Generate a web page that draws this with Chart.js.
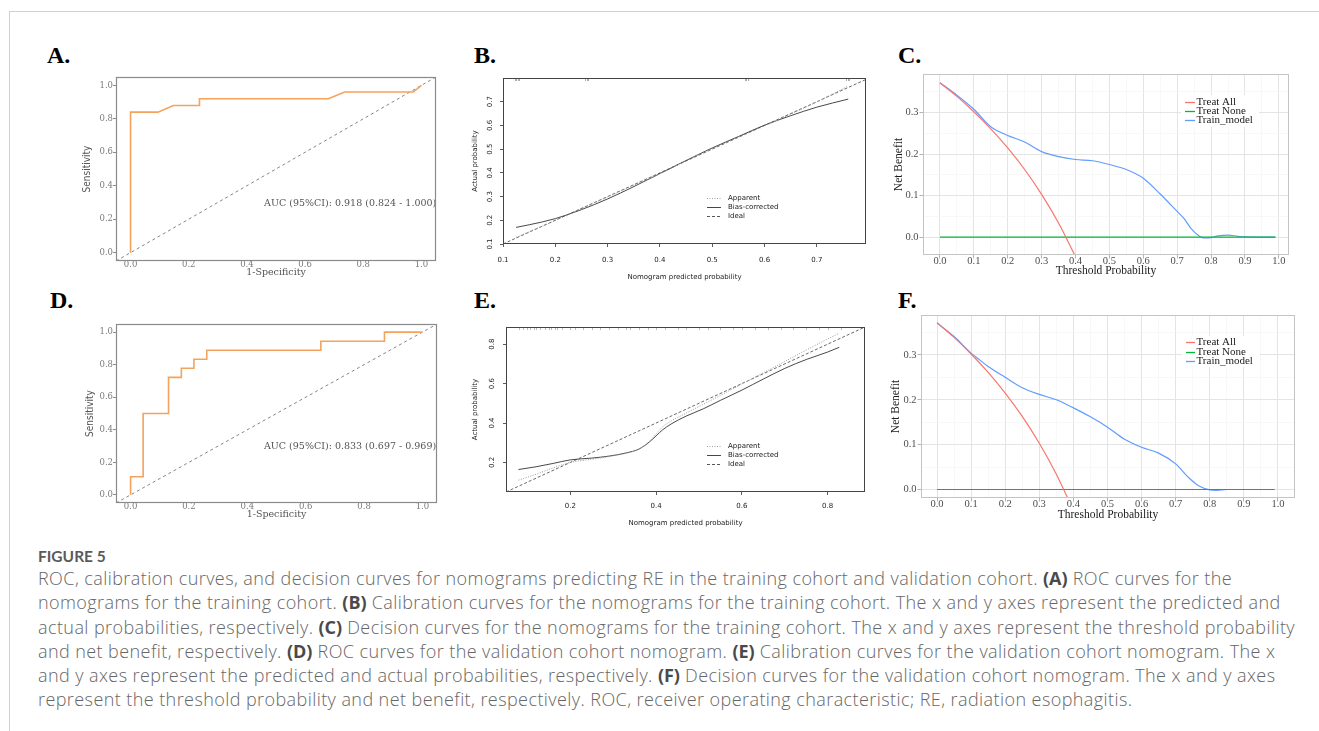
<!DOCTYPE html>
<html><head><meta charset="utf-8">
<script src="https://cdn.jsdelivr.net/npm/chart.js@4.4.1/dist/chart.umd.min.js"></script>
<style>
html,body{margin:0;padding:0;background:#fff;}
#fig{position:relative;width:1319px;height:731px;overflow:hidden;background:#fff;}
#fig canvas{position:absolute;}
.hl{position:absolute;left:9px;top:11px;width:1310px;height:1px;background:#d0d0d0;}
.vl{position:absolute;left:9px;top:11px;width:1px;height:720px;background:#d0d0d0;}
.pl{position:absolute;font-family:'Liberation Serif','DejaVu Serif',serif;font-weight:bold;font-size:24px;line-height:24px;color:#000;}
#figno{position:absolute;left:38px;top:547px;font-family:Lato,'Open Sans',sans-serif;font-weight:700;font-size:15.5px;line-height:18px;color:#5a5a5a;}
#cap{position:absolute;left:38px;top:566px;font-family:'Open Sans',Lato,sans-serif;font-weight:300;font-size:18px;letter-spacing:0.42px;line-height:24.3px;color:#666;white-space:nowrap;}
#cap b{font-weight:700;color:#4a4a4a;letter-spacing:0;}
</style></head>
<body><div id="fig">
<div class="hl"></div><div class="vl"></div>
<div class="pl" style="left:47px;top:43px">A.</div>
<div class="pl" style="left:474px;top:43px">B.</div>
<div class="pl" style="left:898px;top:43px">C.</div>
<div class="pl" style="left:50px;top:288px">D.</div>
<div class="pl" style="left:474px;top:288px">E.</div>
<div class="pl" style="left:898px;top:288px">F.</div>
<div id="figno">FIGURE 5</div>
<div id="cap">ROC, calibration curves, and decision curves for nomograms predicting RE in the training cohort and validation cohort. <b>(A)</b> ROC curves for the<br>nomograms for the training cohort. <b>(B)</b> Calibration curves for the nomograms for the training cohort. The x and y axes represent the predicted and<br>actual probabilities, respectively. <b>(C)</b> Decision curves for the nomograms for the training cohort. The x and y axes represent the threshold probability<br>and net benefit, respectively. <b>(D)</b> ROC curves for the validation cohort nomogram. <b>(E)</b> Calibration curves for the validation cohort nomogram. The x<br>and y axes represent the predicted and actual probabilities, respectively. <b>(F)</b> Decision curves for the validation cohort nomogram. The x and y axes<br>represent the threshold probability and net benefit, respectively. ROC, receiver operating characteristic; RE, radiation esophagitis.</div>
</div>
<script>
// ---------------- DATA ----------------
// ROC panels (A: training, D: validation)
const rocTicks = [0, 0.2, 0.4, 0.6, 0.8, 1.0];
const rocDiag = [-0.05, 1.05];
const rocA_fpr = [0, 0, 0.094, 0.147, 0.237, 0.237, 0.68, 0.736, 0.972, 1.0];
const rocA_tpr = [0, 0.84, 0.84, 0.88, 0.88, 0.92, 0.92, 0.96, 0.96, 1.0];
const rocD_fpr = [0, 0, 0.043, 0.043, 0.13, 0.13, 0.174, 0.174, 0.217, 0.217, 0.261, 0.261, 0.652, 0.652, 0.87, 0.87, 1.0];
const rocD_tpr = [0, 0.111, 0.111, 0.5, 0.5, 0.722, 0.722, 0.778, 0.778, 0.833, 0.833, 0.889, 0.889, 0.944, 0.944, 1.0, 1.0];
const aucA = 'AUC (95%CI): 0.918 (0.824 - 1.000)';
const aucD = 'AUC (95%CI): 0.833 (0.697 - 0.969)';

// Calibration panels (B: training, E: validation)
const calLabels = ['Apparent', 'Bias-corrected', 'Ideal'];
const calTicksB = [0.1, 0.2, 0.3, 0.4, 0.5, 0.6, 0.7];
const calB_pred = [0.125, 0.15, 0.2, 0.25, 0.3, 0.35, 0.4, 0.45, 0.5, 0.55, 0.6, 0.65, 0.7, 0.76];
const calB_apparent = [0.128, 0.152, 0.199, 0.25, 0.298, 0.348, 0.396, 0.451, 0.502, 0.55, 0.598, 0.648, 0.699, 0.766];
const calB_bias = [0.170, 0.181, 0.207, 0.245, 0.290, 0.342, 0.397, 0.452, 0.505, 0.553, 0.601, 0.641, 0.677, 0.711];
const calB_ideal = [0.1, 0.8];
const rugB = [0.122, 0.125, 0.128, 0.131, 0.257, 0.26, 0.263, 0.562, 0.565, 0.568, 0.756, 0.759, 0.762];

const calTicksE = [0.2, 0.4, 0.6, 0.8];
const calE_pred = [0.079, 0.12, 0.16, 0.2, 0.25, 0.29, 0.33, 0.36, 0.385, 0.4, 0.415, 0.435, 0.47, 0.51, 0.55, 0.6, 0.65, 0.7, 0.75, 0.8, 0.827];
const calE_apparent = [0.11, 0.14, 0.172, 0.2, 0.216, 0.23, 0.247, 0.268, 0.308, 0.345, 0.38, 0.41, 0.45, 0.495, 0.54, 0.598, 0.655, 0.712, 0.77, 0.826, 0.856];
const calE_bias = [0.164, 0.178, 0.195, 0.213, 0.222, 0.232, 0.248, 0.268, 0.305, 0.335, 0.365, 0.395, 0.435, 0.472, 0.515, 0.567, 0.623, 0.677, 0.722, 0.76, 0.784];
const calE_ideal = [0.05, 0.887];
const rugE = [0.08, 0.09, 0.1, 0.105, 0.115, 0.12, 0.13, 0.14, 0.15, 0.155, 0.165, 0.17, 0.18, 0.2, 0.21, 0.23, 0.25, 0.27, 0.29, 0.31, 0.33, 0.34, 0.36, 0.38, 0.4, 0.42, 0.45, 0.47, 0.5, 0.52, 0.55, 0.58, 0.6, 0.63, 0.66, 0.69, 0.72, 0.75, 0.78, 0.8, 0.83];

// Decision curves (C: training, F: validation)
const dcaLabels = ['Treat All', 'Treat None', 'Train_model'];
const dcaTicksX = [0, 0.1, 0.2, 0.3, 0.4, 0.5, 0.6, 0.7, 0.8, 0.9, 1.0];
const dcaMinorX = [0.05, 0.15, 0.25, 0.35, 0.45, 0.55, 0.65, 0.75, 0.85, 0.95];
const dcaTicksY = [0, 0.1, 0.2, 0.3];
const dcaMinorY = [0.05, 0.15, 0.25, 0.35];
const dcaAll_pt = [0, 0.05, 0.1, 0.15, 0.2, 0.25, 0.3, 0.35, 0.4];
const dcaAll_nb = [0.372, 0.339, 0.302, 0.261, 0.215, 0.163, 0.103, 0.034, -0.047];
const dcaNone_pt = [0, 0.99];
const dcaNone_nb = [0, 0];
const dcaC_pt = [0, 0.05, 0.1, 0.15, 0.2, 0.25, 0.3, 0.35, 0.4, 0.45, 0.5, 0.55, 0.6, 0.65, 0.7, 0.72, 0.74, 0.76, 0.78, 0.8, 0.82, 0.85, 0.88, 0.9, 0.95, 0.99];
const dcaC_model = [0.372, 0.342, 0.308, 0.266, 0.245, 0.229, 0.206, 0.194, 0.187, 0.184, 0.175, 0.163, 0.142, 0.104, 0.062, 0.045, 0.022, 0.006, -0.002, -0.001, 0.003, 0.005, 0.002, 0.0005, 0, 0];
const dcaF_pt = [0, 0.05, 0.1, 0.125, 0.15, 0.2, 0.25, 0.3, 0.35, 0.4, 0.45, 0.5, 0.55, 0.6, 0.65, 0.7, 0.74, 0.77, 0.8, 0.82, 0.85, 0.9, 0.95, 0.99];
const dcaF_model = [0.371, 0.341, 0.304, 0.289, 0.274, 0.25, 0.227, 0.212, 0.2, 0.182, 0.162, 0.139, 0.112, 0.094, 0.081, 0.057, 0.025, 0.007, -0.001, -0.002, 0, 0, 0, 0];

// ---------------- HELPERS ----------------
const pts = (xs, ys) => xs.map((x, i) => ({x: x, y: ys[i]}));

Chart.register({
  id: 'deco',
  afterDatasetsDraw(chart, args, o) {
    const ctx = chart.ctx, a = chart.chartArea, X = chart.scales.x, Y = chart.scales.y;
    const ox = o.ox || 0, oy = o.oy || 0;
    if (o.rug) {
      ctx.save(); ctx.strokeStyle = o.rug.color; ctx.lineWidth = 0.8;
      o.rug.values.forEach(v => {
        const px = Math.round(X.getPixelForValue(v)) + 0.5;
        ctx.beginPath(); ctx.moveTo(px, a.top); ctx.lineTo(px, a.top + o.rug.len); ctx.stroke();
      });
      ctx.restore();
    }
    if (o.note) {
      ctx.save();
      ctx.beginPath(); ctx.rect(a.left, a.top, a.right - a.left - 1, a.bottom - a.top); ctx.clip();
      ctx.font = o.note.font; ctx.fillStyle = o.note.color; ctx.textBaseline = 'middle'; ctx.textAlign = 'left';
      ctx.fillText(o.note.text, X.getPixelForValue(o.note.x), Y.getPixelForValue(o.note.y));
      ctx.restore();
    }
    if (o.legend) {
      const L = o.legend;
      ctx.save();
      if (L.bg) { ctx.fillStyle = '#ffffff'; ctx.fillRect(L.bg[0] - ox, L.bg[1] - oy, L.bg[2], L.bg[3]); }
      ctx.font = L.font; ctx.textBaseline = 'middle'; ctx.textAlign = 'left';
      L.items.forEach((di, k) => {
        const ds = chart.data.datasets[di];
        const y = Math.round(L.y - oy + k * L.row) + 0.5;
        ctx.strokeStyle = ds.borderColor; ctx.lineWidth = L.lw; ctx.setLineDash(ds.borderDash ? Array.from(ds.borderDash) : []);
        ctx.beginPath(); ctx.moveTo(L.x1 - ox, y); ctx.lineTo(L.x2 - ox, y); ctx.stroke();
        ctx.setLineDash([]); ctx.fillStyle = L.color; ctx.fillText(ds.label, L.tx - ox, y);
      });
      ctx.restore();
    }
    if (o.frame) {
      ctx.save(); ctx.strokeStyle = o.frame.color; ctx.lineWidth = o.frame.width;
      ctx.strokeRect(Math.round(a.left) + 0.5, Math.round(a.top) + 0.5, Math.round(a.right - a.left) - 1, Math.round(a.bottom - a.top) - 1);
      ctx.restore();
    }
    if (o.rotY) {
      ctx.save(); ctx.font = o.rotY.font; ctx.fillStyle = o.rotY.color; ctx.textAlign = 'center'; ctx.textBaseline = 'middle';
      Y.ticks.forEach(t => {
        const py = Y.getPixelForValue(t.value);
        ctx.save(); ctx.translate(o.rotY.x - ox, py); ctx.rotate(-Math.PI / 2);
        ctx.fillText(t.value.toFixed(1), 0, 0); ctx.restore();
      });
      ctx.restore();
    }
  }
});

function build(box, area, cfg) {
  const cv = document.createElement('canvas');
  cv.width = box.w; cv.height = box.h;
  cv.style.left = box.x + 'px'; cv.style.top = box.y + 'px';
  cv.style.width = box.w + 'px'; cv.style.height = box.h + 'px';
  document.getElementById('fig').appendChild(cv);
  const xh = box.y + box.h - area.b, yw = area.l - box.x;
  const sx = Object.assign({type: 'linear', position: 'bottom'}, cfg.x);
  const sy = Object.assign({type: 'linear', position: 'left'}, cfg.y);
  sx.afterFit = s => { s.height = xh; };
  sy.afterFit = s => { s.width = yw; };
  return new Chart(cv, {
    type: 'line',
    data: {datasets: cfg.datasets},
    options: {
      responsive: false, animation: false, devicePixelRatio: 1, events: [],
      layout: {padding: {left: 0, top: area.t - box.y, right: box.x + box.w - area.r, bottom: 0}},
      elements: {point: {radius: 0, hoverRadius: 0}},
      plugins: {legend: {display: false}, tooltip: {enabled: false}, deco: Object.assign({ox: box.x, oy: box.y}, cfg.deco)},
      scales: {x: sx, y: sy}
    }
  });
}

function tickSetter(list) { return s => { s.ticks = list.map(v => ({value: v})); }; }

// ROC scale
function rocScale(isX, titleText) {
  return {
    min: -0.05, max: 1.05,
    afterBuildTicks: tickSetter(rocTicks),
    border: {display: false},
    grid: {drawOnChartArea: false, drawTicks: true, tickLength: isX ? 1 : 3, color: '#8c8c8c', tickColor: isX ? 'rgba(0,0,0,0)' : '#8c8c8c', lineWidth: 1},
    ticks: {autoSkip: false, maxRotation: 0, minRotation: 0, padding: isX ? -2.5 : 0, color: '#7a7a7a',
            font: {family: 'DejaVu Serif', size: 8.5, lineHeight: 1.2}, callback: v => v.toFixed(1)},
    title: {display: true, text: titleText, color: '#555', padding: 0,
            font: isX ? {family: 'DejaVu Serif', size: 9.5} : {family: "'Liberation Sans Narrow','DejaVu Sans Condensed','Liberation Sans'", size: 10}}
  };
}
function rocDatasets(fpr, tpr) {
  return [
    {label: 'ROC', data: pts(fpr, tpr), borderColor: '#F3A35C', borderWidth: 1.6, tension: 0},
    {label: 'Reference', data: pts(rocDiag, rocDiag), borderColor: '#666', borderWidth: 0.8, borderDash: [3, 3], tension: 0}
  ];
}

// calibration scales
function calScale(isX, ticks, min, max, titleText, pad) {
  return {
    min: min, max: max,
    afterBuildTicks: tickSetter(ticks),
    border: {display: false},
    grid: {drawOnChartArea: false, drawTicks: true, tickLength: 3, color: '#333', lineWidth: 0.8},
    ticks: {display: isX, autoSkip: false, maxRotation: 0, minRotation: 0, padding: pad, color: '#222',
            font: {family: 'DejaVu Sans', size: 7}, callback: v => v.toFixed(1)},
    title: {display: true, text: titleText, color: '#222', padding: 0, font: {family: 'DejaVu Sans', size: 7}}
  };
}
function calDatasets(pred, app, bias, ideal) {
  return [
    {label: calLabels[0], data: pts(pred, app), borderColor: '#9a9a9a', borderWidth: 1, borderDash: [1, 1.5], cubicInterpolationMode: 'monotone'},
    {label: calLabels[1], data: pts(pred, bias), borderColor: '#333', borderWidth: 0.9, cubicInterpolationMode: 'monotone'},
    {label: calLabels[2], data: pts(ideal, ideal), borderColor: '#444', borderWidth: 0.8, borderDash: [3, 2], tension: 0}
  ];
}

// ggplot-like DCA scales
function ggScale(isX, major, minor, min, max, titleText, pad) {
  const all = major.map(v => ({value: v})).concat(minor.map(v => ({value: v, minor: true}))).sort((a, b) => a.value - b.value);
  return {
    min: min, max: max,
    afterBuildTicks: s => { s.ticks = all.map(t => Object.assign({}, t)); },
    border: {display: false},
    grid: {drawOnChartArea: true, drawTicks: true, tickLength: 3.5,
           color: c => (c.tick && c.tick.minor) ? '#f3f3f3' : '#e4e4e4',
           lineWidth: c => (c.tick && c.tick.minor) ? 0.6 : 1,
           tickColor: c => (c.tick && c.tick.minor) ? 'rgba(0,0,0,0)' : '#b3b3b3'},
    ticks: {autoSkip: false, maxRotation: 0, minRotation: 0, padding: pad, color: '#4d4d4d',
            font: {family: 'Liberation Serif', size: 10.5, lineHeight: 1.2},
            callback: (v, i, ts) => (ts[i] && ts[i].minor) ? '' : v.toFixed(1)},
    title: {display: true, text: titleText, color: '#1a1a1a', padding: 0, font: {family: 'Liberation Serif', size: 11.5}}
  };
}
function dcaDatasets(pt, model) {
  return [
    {label: dcaLabels[0], data: pts(dcaAll_pt, dcaAll_nb), borderColor: '#F8766D', borderWidth: 1.2, cubicInterpolationMode: 'monotone'},
    {label: dcaLabels[1], data: pts(dcaNone_pt, dcaNone_nb), borderColor: '#00BA38', borderWidth: 1.2, tension: 0},
    {label: dcaLabels[2], data: pts(pt, model), borderColor: '#619CFF', borderWidth: 1.2, cubicInterpolationMode: 'monotone'}
  ];
}

// ---------------- PANELS ----------------
// A
build({x: 81, y: 68, w: 369, h: 210}, {l: 116, t: 77, r: 436, b: 261}, {
  datasets: rocDatasets(rocA_fpr, rocA_tpr),
  x: rocScale(true, '1-Specificity'), y: rocScale(false, 'Sensitivity'),
  deco: {frame: {color: '#8a8a8a', width: 1.2},
         note: {text: aucA, x: 0.459, y: 0.293, font: '9.5px "DejaVu Serif"', color: '#555'}}
});
// D
build({x: 84, y: 314, w: 366, h: 206}, {l: 116, t: 324, r: 437, b: 503}, {
  datasets: rocDatasets(rocD_fpr, rocD_tpr),
  x: rocScale(true, '1-Specificity'), y: rocScale(false, 'Sensitivity'),
  deco: {frame: {color: '#8a8a8a', width: 1.2},
         note: {text: aucD, x: 0.457, y: 0.297, font: '9.5px "DejaVu Serif"', color: '#555'}}
});
// B
build({x: 471, y: 68, w: 410, h: 213}, {l: 503, t: 78, r: 866, b: 244}, {
  datasets: calDatasets(calB_pred, calB_apparent, calB_bias, calB_ideal),
  x: calScale(true, calTicksB, 0.1, 0.794, 'Nomogram predicted probability', 8.5),
  y: calScale(false, calTicksB, 0.1, 0.8, 'Actual probability', 0),
  deco: {frame: {color: '#444', width: 1},
         rug: {values: rugB, len: 3, color: '#999'},
         rotY: {x: 490.5, font: '7px "DejaVu Sans"', color: '#222'},
         legend: {items: [0, 1, 2], x1: 707, x2: 721, tx: 728, y: 198.3, row: 8.7, lw: 0.9, font: '7px "DejaVu Sans"', color: '#222'}}
});
// E
build({x: 471, y: 316, w: 410, h: 211}, {l: 506, t: 327, r: 865, b: 492}, {
  datasets: calDatasets(calE_pred, calE_apparent, calE_bias, calE_ideal),
  x: calScale(true, calTicksE, 0.05, 0.887, 'Nomogram predicted probability', 7),
  y: calScale(false, calTicksE, 0.05, 0.887, 'Actual probability', 0),
  deco: {frame: {color: '#444', width: 1},
         rug: {values: rugE, len: 3, color: '#aaa'},
         rotY: {x: 492.5, font: '7px "DejaVu Sans"', color: '#222'},
         legend: {items: [0, 1, 2], x1: 707, x2: 721, tx: 728, y: 446, row: 8.8, lw: 0.9, font: '7px "DejaVu Sans"', color: '#222'}}
});
// C
build({x: 892, y: 64, w: 415, h: 214}, {l: 923, t: 74, r: 1289, b: 255}, {
  datasets: dcaDatasets(dcaC_pt, dcaC_model),
  x: ggScale(true, dcaTicksX, dcaMinorX, -0.05, 1.03, 'Threshold Probability', -3.3),
  y: ggScale(false, dcaTicksY, dcaMinorY, -0.043, 0.393, 'Net Benefit', 1),
  deco: {frame: {color: '#c4c4c4', width: 1},
         legend: {items: [0, 1, 2], bg: [1181, 95, 78, 32], x1: 1185, x2: 1195, tx: 1196.5, y: 101.7, row: 9.2, lw: 1.3, font: '11px "Liberation Serif"', color: '#1a1a1a'}}
});
// F
build({x: 889, y: 305, w: 421, h: 217}, {l: 921, t: 315, r: 1295, b: 498}, {
  datasets: dcaDatasets(dcaF_pt, dcaF_model),
  x: ggScale(true, dcaTicksX, dcaMinorX, -0.047, 1.05, 'Threshold Probability', -3.8),
  y: ggScale(false, dcaTicksY, dcaMinorY, -0.019, 0.389, 'Net Benefit', 1),
  deco: {frame: {color: '#c4c4c4', width: 1},
         legend: {items: [0, 1, 2], bg: [1182, 336, 78, 31], x1: 1186, x2: 1195, tx: 1196.5, y: 342.3, row: 9.3, lw: 1.3, font: '11px "Liberation Serif"', color: '#1a1a1a'}}
});
</script>
</body></html>
